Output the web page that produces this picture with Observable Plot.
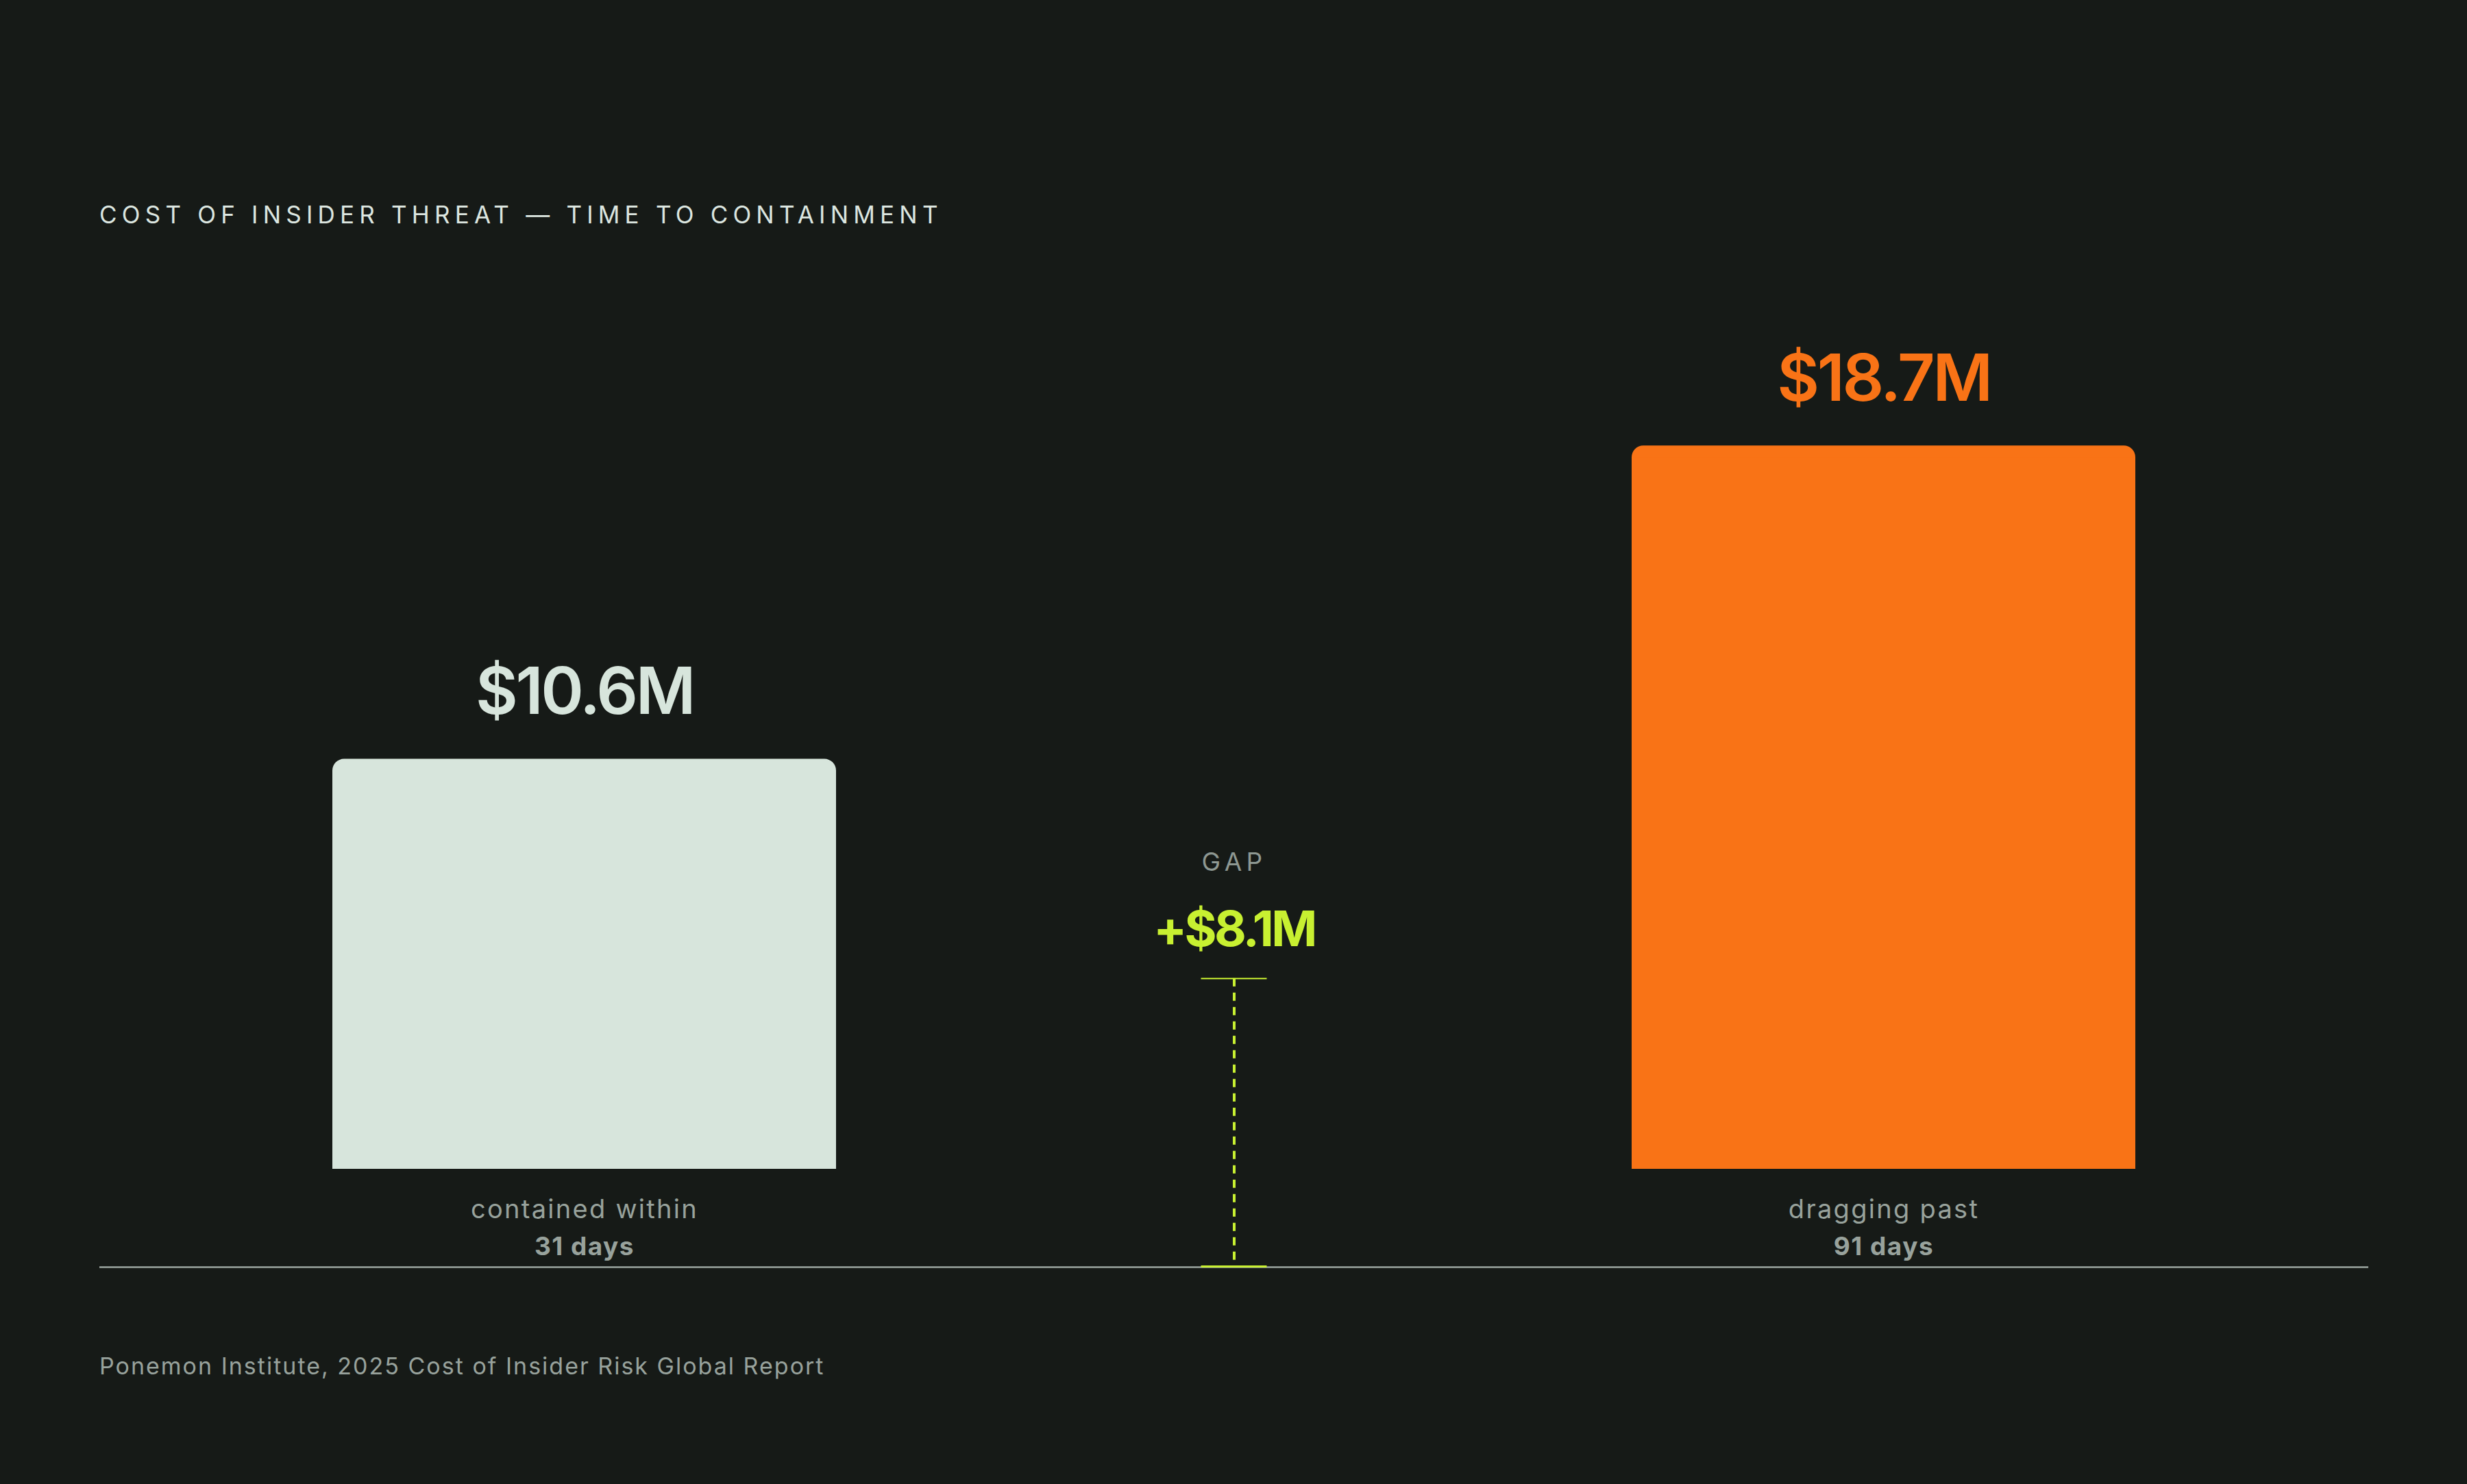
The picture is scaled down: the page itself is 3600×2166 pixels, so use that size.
<!DOCTYPE html>
<html>
<head>
<meta charset="utf-8">
<script src="https://cdn.jsdelivr.net/npm/d3@7"></script>
<script src="https://cdn.jsdelivr.net/npm/@observablehq/plot@0.6"></script>
<style>
  html, body { margin: 0; padding: 0; background: #161a17; }
  body { width: 3600px; height: 2166px; font-family: Inter, "Noto Sans", sans-serif; }
  #head { height: 124px; padding-top: 296px; box-sizing: content-box; }
  #title { margin-left: 145px; font-size: 35px; line-height: 35px; letter-spacing: 7.2px; color: #dce6e0; font-weight: 400; white-space: nowrap; }
  #chart svg { display: block; }
  #caption { margin-top: 57px; margin-left: 145px; font-size: 34px; line-height: 34px; color: #98a29c; letter-spacing: 2px; white-space: nowrap; }
</style>
</head>
<body>
<div id="head"><div id="title"></div></div>
<div id="chart"></div>
<div id="caption"></div>
<script>
// ---- data ----
const titleText = "COST OF INSIDER THREAT — TIME TO CONTAINMENT";
const captionText = "Ponemon Institute, 2025 Cost of Insider Risk Global Report";
const slots = ["contained", "gap", "dragging"];
const barKeys = ["contained", "dragging"];
const barValues = [10.6, 18.7];            // $M
const valueLabels = ["$10.6M", "$18.7M"];
const categoryLabels = ["contained within", "dragging past"];
const dayLabels = ["31 days", "91 days"];
const gapTitle = "GAP";
const gapLabel = "+$8.1M";
const gapValue = Math.round((barValues[1] - barValues[0]) * 10) / 10;

// ---- styles ----
const barColors = ["#d7e5dc", "#f97316"];
const lime = "#c8f031";
const grey = "#98a29c";
const greyDim = "#8e9892";

const bars = barKeys.map((key, i) => ({
  key, value: barValues[i], text: valueLabels[i], label: categoryLabels[i], days: dayLabels[i]
}));
const gap = [{key: "gap", value: gapValue, text: gapLabel, title: gapTitle}];

document.getElementById("title").textContent = titleText;
document.getElementById("caption").textContent = captionText;

const chart = Plot.plot({
  width: 3600,
  height: 1500,
  marginLeft: 145,
  marginRight: 144,
  marginTop: 44,
  marginBottom: 214,
  style: {background: "transparent", fontFamily: "Inter, 'Noto Sans', sans-serif", overflow: "visible"},
  x: {domain: slots, paddingInner: 0.225, paddingOuter: 0.358, axis: null},
  y: {domain: [0, 22], axis: null},
  color: {domain: barKeys, range: barColors},
  marks: [
    // rounded bars
    Plot.barY(bars, {x: "key", y: "value", fill: "key", rx: 17}),
    // square off bottom corners
    Plot.barY(bars, {x: "key", y: "value", fill: "key", insetTop: 17}),
    // value labels
    Plot.text(bars, {x: "key", y: "value", text: "text", fill: "key", lineAnchor: "bottom", dy: -66,
      fontSize: 95, fontWeight: 600}),
    // category labels
    Plot.text(bars, {x: "key", y: 0, text: "label", fill: grey, lineAnchor: "bottom", dy: 71,
      fontSize: 38}),
    Plot.text(bars, {x: "key", y: 0, text: "days", fill: grey, lineAnchor: "bottom", dy: 125,
      fontSize: 37, fontWeight: 700}),
    // baseline
    Plot.ruleY([0], {dy: 143, stroke: "#9aa59f", strokeWidth: 2.5}),
    // gap bracket
    Plot.ruleX(gap, {x: "key", y1: "value", y2: 0, dy: 143, insetTop: 36, stroke: lime,
      strokeWidth: 4, strokeDasharray: "12,9"}),
    Plot.tickY(gap, {x: "key", y: "value", dy: 179, insetLeft: 319.5, insetRight: 319.5, stroke: lime, strokeWidth: 2}),
    Plot.tickY(gap, {x: "key", y: 0, dy: 142, insetLeft: 319.5, insetRight: 319.5, stroke: lime, strokeWidth: 3}),
    Plot.text(gap, {x: "key", y: "value", text: "text", fill: lime, lineAnchor: "bottom", dy: 132,
      fontSize: 72, fontWeight: 700}),
    Plot.text(gap, {x: "key", y: "value", text: "title", fill: greyDim, lineAnchor: "bottom", dy: 22,
      fontSize: 37})
  ]
});

// letter-spacing per text group (Plot's text mark has no letterSpacing option)
const spacing = new Map([
  ...valueLabels.map(t => [t, "-0.035em"]),
  ...categoryLabels.map(t => [t, "0.06em"]),
  ...dayLabels.map(t => [t, "0.04em"]),
  [gapLabel, "-0.05em"],
  [gapTitle, "0.17em"]
]);
d3.select(chart).selectAll("text").each(function() {
  const s = spacing.get(this.textContent);
  if (s) this.style.letterSpacing = s;
});
document.getElementById("chart").appendChild(chart);
</script>
</body>
</html>
